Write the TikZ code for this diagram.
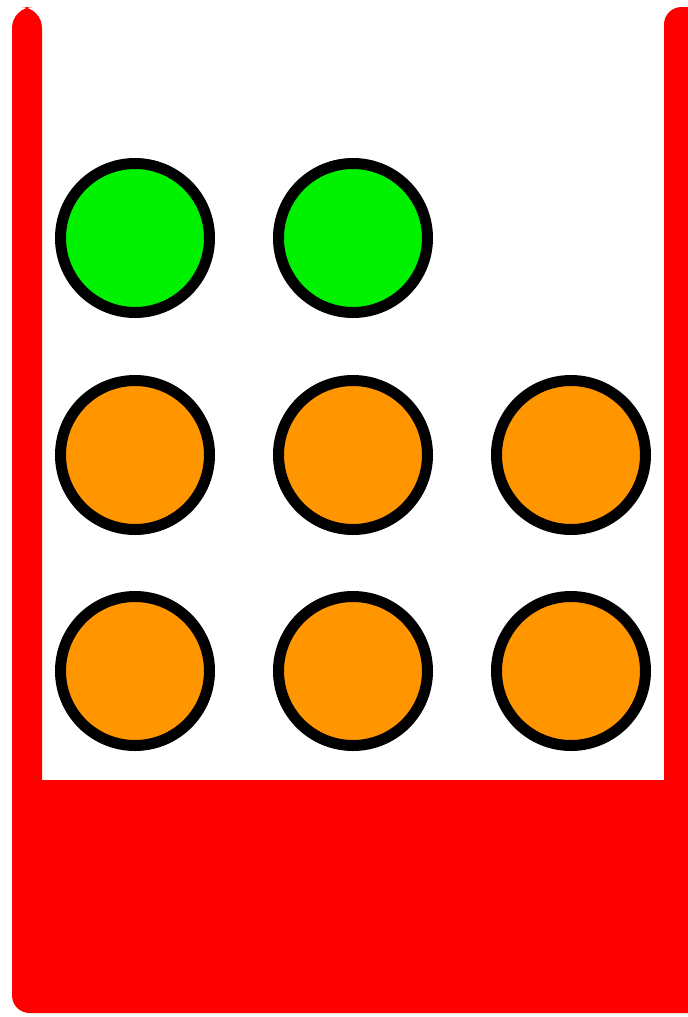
\documentclass[tikz,border=0pt]{standalone}
\definecolor{ballgreen}{RGB}{0,242,0}
\definecolor{ballorange}{RGB}{255,150,0}
\tikzset{ball/.style={circle, draw=black, line width=2.2mm, minimum size=29.8mm, inner sep=0pt}}
\begin{document}
\begin{tikzpicture}[x=0.2mm, y=-0.2mm]
    \useasboundingbox (0,0) rectangle (688,1017);
    % container
    \fill[red, rounded corners=12] (12,7) rectangle (42,900);
    \fill[red, rounded corners=10] (664,7) rectangle (720,900);
    \fill[red, rounded corners=10] (12,780) rectangle (720,1013);
    \fill[red] (12,780) rectangle (42,800);
    % balls
    \draw (135,238)node[ball, fill=ballgreen, name=G1]{};
    \draw (353,238)node[ball, fill=ballgreen, name=G2]{};
    \foreach \r/\y in {1/455, 2/671}
        \foreach \c/\x in {1/135, 2/353, 3/571}
            \draw (\x,\y)node[ball, fill=ballorange, name=O\r\c]{};
\end{tikzpicture}
\end{document}
